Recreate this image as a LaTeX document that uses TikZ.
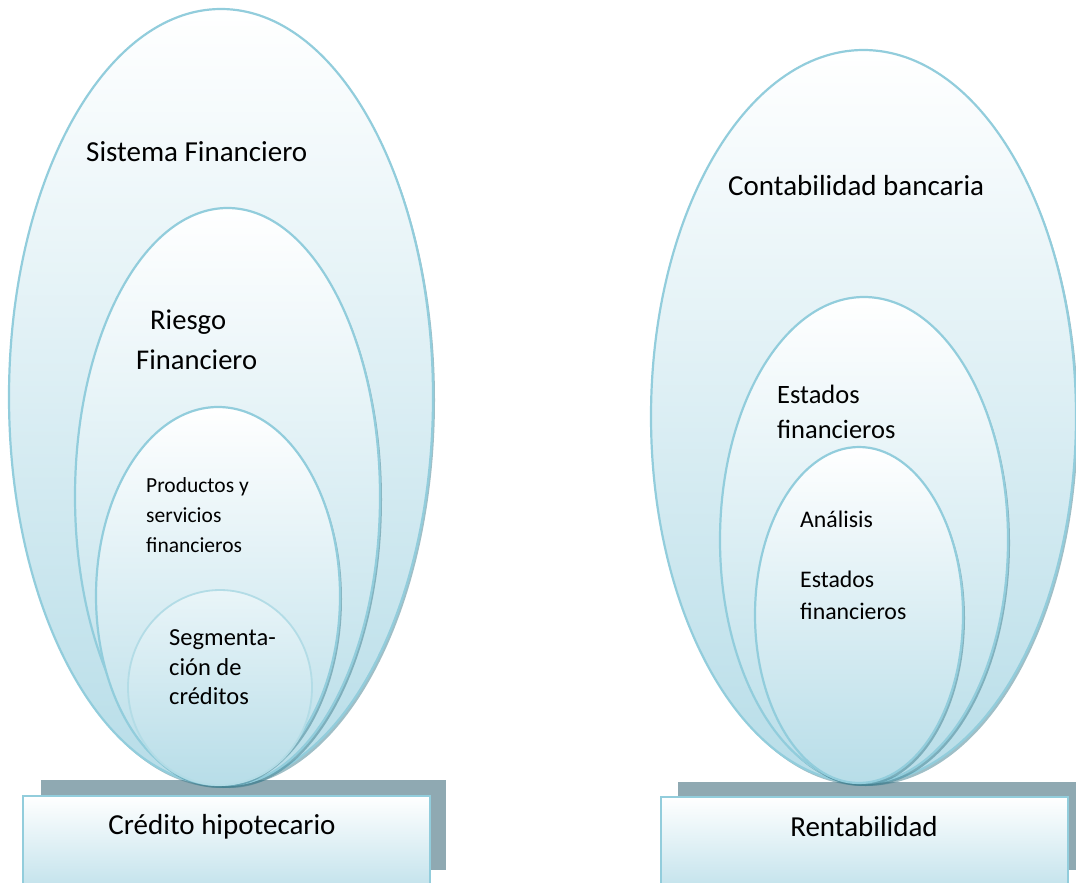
\documentclass[tikz,border=0pt]{standalone}
\usepackage{fontspec}
\setmainfont{Carlito}
\usetikzlibrary{shapes.geometric,shadows}

\definecolor{rim}{HTML}{92CDDC}
\definecolor{rimlight}{HTML}{B3DCE6}
\definecolor{paleblue}{HTML}{B7DDE8}
\definecolor{slate}{HTML}{8FA9B2}
\definecolor{shade}{HTML}{3F7F8F}

\tikzset{
  bubble/.style={ellipse, draw=rim, line width=2.2pt, inner sep=0pt, outer sep=0pt,
    top color=white, bottom color=paleblue,
    drop shadow={shadow xshift=2pt, shadow yshift=-3pt, opacity=.5, fill=shade}},
  softbubble/.style={ellipse, draw=rimlight, line width=1.8pt, inner sep=0pt, outer sep=0pt,
    top color=white!70!paleblue, bottom color=paleblue},
  basebox/.style={rectangle, draw=rim, line width=2pt, inner sep=0pt, outer sep=0pt,
    top color=white, bottom color=paleblue},
  backplate/.style={rectangle, fill=slate, inner sep=0pt, outer sep=0pt, draw=none},
  lbl/.style={anchor=base west, inner sep=0pt},
  ctr/.style={anchor=base, inner sep=0pt},
  fbig/.style={font=\fontsize{29}{34}\selectfont},
  friesgo/.style={font=\fontsize{28.6}{34}\selectfont},
  fmid/.style={font=\fontsize{26.5}{31}\selectfont},
  fanal/.style={font=\fontsize{23.8}{28}\selectfont},
  fprod/.style={font=\fontsize{21.5}{26}\selectfont},
  fsegm/.style={font=\fontsize{24.5}{29}\selectfont},
}

\begin{document}
\begin{tikzpicture}[x=1pt, y=-1pt]
\useasboundingbox (0,0) rectangle (1076,883);
\clip (0,0) rectangle (1076,883);

% ---- left stack: credit ----
\node[backplate, minimum width=405pt, minimum height=90pt] (credplate) at (243.5,825) {};
\node[bubble, minimum width=424pt, minimum height=776pt] (sysfin) at (221,397) {};
\node[bubble, minimum width=305pt, minimum height=577pt] (riesgo) at (227.5,496.5) {};
\node[bubble, minimum width=244pt, minimum height=378pt] (productos) at (218,596) {};
\node[softbubble, minimum width=184pt, minimum height=195pt] (segm) at (220,687.5) {};
\node[basebox, minimum width=407pt, minimum height=110pt] (credito) at (226.5,851) {};

\node[lbl, fbig] (tsys) at (86,161) {Sistema Financiero};
\node[lbl, friesgo] (triesgoA) at (150,329) {Riesgo};
\node[lbl, friesgo] (triesgoB) at (136,369) {Financiero};
\node[lbl, fprod] (tprodA) at (146,492) {Productos y};
\node[lbl, fprod] (tprodB) at (146,522) {servicios};
\node[lbl, fprod] (tprodC) at (146,552) {financieros};
\node[lbl, fsegm] (tsegmA) at (169,645) {Segmenta-};
\node[lbl, fsegm] (tsegmB) at (169,675) {ción de};
\node[lbl, fsegm] (tsegmC) at (169,704) {créditos};
\node[ctr, fbig] (tcred) at (222,834) {Crédito hipotecario};

% ---- right stack: profitability ----
\node[backplate, minimum width=402pt, minimum height=88pt] (rentplate) at (879,826) {};
\node[bubble, minimum width=425pt, minimum height=733pt] (contab) at (863.5,416.5) {};
\node[bubble, minimum width=288pt, minimum height=486pt] (estados) at (864,540) {};
\node[bubble, minimum width=208pt, minimum height=336pt] (analisis) at (859,615) {};
\node[basebox, minimum width=407pt, minimum height=110pt] (rentab) at (864.5,852) {};

\node[lbl, fbig] (tcont) at (728,195) {Contabilidad bancaria};
\node[lbl, fmid] (testA) at (777,403) {Estados};
\node[lbl, fmid] (testB) at (777,438) {financieros};
\node[lbl, fanal] (tanal) at (800,527) {Análisis};
\node[lbl, fanal] (tanalA) at (800,587) {Estados};
\node[lbl, fanal] (tanalB) at (800,619) {financieros};
\node[ctr, fbig] (trent) at (864,836) {Rentabilidad};
\end{tikzpicture}
\end{document}
